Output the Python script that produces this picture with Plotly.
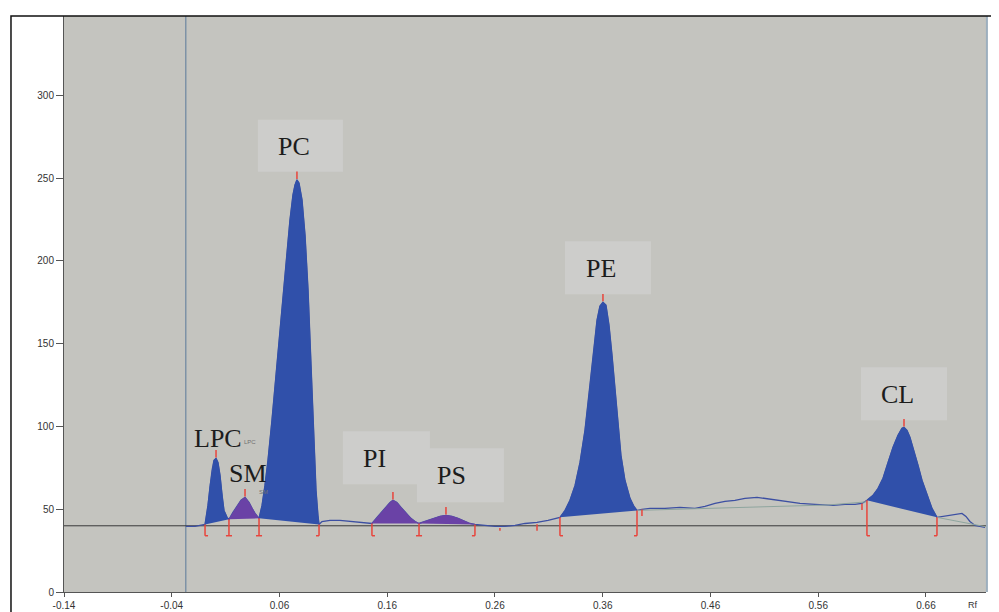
import numpy as np
import plotly.graph_objects as go

# Densitometric scan of an HPTLC plate (Rf vs. detector response)
rf = [
    -0.0268, -0.0184, -0.0138, -0.0091, -0.0064, -0.0045, -0.0026, -0.0008, 0.0011, 0.0029,
    0.0048, 0.0066, 0.0085, 0.0113, 0.0131, 0.0168, 0.0206, 0.0243, 0.0280, 0.0317,
    0.0345, 0.0373, 0.0410, 0.0438, 0.0465, 0.0493, 0.0530, 0.0568, 0.0605, 0.0642,
    0.0670, 0.0697, 0.0725, 0.0744, 0.0762, 0.0781, 0.0809, 0.0837, 0.0865, 0.0883,
    0.0911, 0.0939, 0.0957, 0.0967, 0.0994, 0.1069, 0.1161, 0.1254, 0.1347, 0.1458,
    0.1505, 0.1551, 0.1598, 0.1626, 0.1653, 0.1690, 0.1728, 0.1774, 0.1820, 0.1858,
    0.1895, 0.1950, 0.2015, 0.2090, 0.2145, 0.2201, 0.2257, 0.2322, 0.2368, 0.2414,
    0.2507, 0.2600, 0.2693, 0.2786, 0.2878, 0.2990, 0.3092, 0.3157, 0.3203, 0.3250,
    0.3296, 0.3343, 0.3389, 0.3435, 0.3472, 0.3510, 0.3547, 0.3574, 0.3602, 0.3630,
    0.3658, 0.3686, 0.3714, 0.3742, 0.3769, 0.3806, 0.3853, 0.3890, 0.3918, 0.3964,
    0.4039, 0.4178, 0.4317, 0.4456, 0.4549, 0.4642, 0.4735, 0.4827, 0.4920, 0.5032,
    0.5152, 0.5245, 0.5338, 0.5431, 0.5570, 0.5737, 0.5848, 0.5941, 0.6006, 0.6052,
    0.6108, 0.6155, 0.6201, 0.6247, 0.6294, 0.6340, 0.6377, 0.6396, 0.6424, 0.6451,
    0.6489, 0.6526, 0.6563, 0.6609, 0.6656, 0.6702, 0.6758, 0.6823, 0.6888, 0.6934,
    0.6971, 0.7008, 0.7055, 0.7148,
]
signal = [
    39.6, 39.6, 40.2, 40.8, 52.3, 64.4, 73.5, 79.6, 80.8, 78.3,
    70.5, 58.4, 49.3, 45.1, 43.9, 48.1, 51.7, 55.4, 57.2, 54.1,
    50.5, 47.5, 44.5, 52.3, 64.4, 79.6, 103.8, 131.0, 158.2, 185.4,
    206.6, 224.7, 239.9, 246.0, 249.0, 247.1, 236.9, 215.7, 182.4, 152.1,
    103.8, 61.4, 46.3, 40.8, 42.6, 43.3, 43.3, 42.6, 42.0, 41.4,
    45.1, 48.7, 52.3, 54.1, 55.4, 54.1, 51.1, 47.5, 44.5, 42.6,
    41.4, 42.6, 43.9, 45.7, 46.3, 45.7, 44.5, 42.6, 41.4, 40.8,
    40.2, 39.6, 39.6, 40.2, 41.4, 42.0, 43.3, 44.5, 45.1, 49.3,
    55.4, 64.4, 78.3, 97.7, 118.9, 143.1, 164.2, 172.7, 175.1, 173.3,
    161.2, 143.1, 121.9, 100.7, 82.6, 67.5, 56.6, 51.7, 49.3, 49.9,
    50.5, 50.5, 51.1, 50.5, 51.7, 53.5, 54.8, 55.4, 56.6, 57.2,
    56.0, 55.4, 54.1, 53.5, 52.9, 52.3, 52.9, 52.9, 53.5, 55.4,
    58.4, 62.6, 68.7, 78.3, 87.4, 94.7, 98.9, 99.5, 97.7, 93.5,
    85.7, 76.6, 67.5, 58.4, 50.5, 45.1, 45.7, 46.3, 46.9, 47.5,
    45.7, 42.6, 40.2, 39.0,
]

# integrated peaks
peak_names = ["LPC", "SM", "PC", "PI", "PS", "PE", "CL"]
peak_start = [-0.0091, 0.0131, 0.0410, 0.1458, 0.1895, 0.3203, 0.6052]
peak_end = [0.0131, 0.0410, 0.0967, 0.1895, 0.2414, 0.3918, 0.6702]
peak_apex = [0.0011, 0.0280, 0.0762, 0.1653, 0.2145, 0.3602, 0.6396]
peak_class = ["blue", "purple", "blue", "purple", "purple", "blue", "blue"]

# baseline drawn by the software under the late part of the scan
bl_rf = [0.3918, 0.4450, 0.5000, 0.5700, 0.6052, None, 0.6702, 0.7148]
bl_val = [49.3, 50.3, 51.3, 52.6, 54.5, None, 45.1, 39.5]

# red peak-limit markers: position and kind
mark_rf = [-0.0091, 0.0131, 0.0410, 0.0967, 0.1458, 0.1895, 0.2414, 0.2646, 0.2990,
           0.3203, 0.3918, 0.3964, 0.6006, 0.6052, 0.6702]
mark_kind = ["[", "I", "I", "]", "[", "I", "]", "|", "|", "[", "]", "'", "'", "[", "]"]

origin_rf = -0.027
zero_line = 40
x_ticks = [-0.14, -0.04, 0.06, 0.16, 0.26, 0.36, 0.46, 0.56, 0.66]
y_ticks = [0, 50, 100, 150, 200, 250, 300]

fill_colors = {"blue": "#3050AA", "purple": "#6A42A6"}
RED = "#E8453C"

rf_a = np.array(rf)
sig_a = np.array(signal)

fig = go.Figure()

# raw scan line
fig.add_trace(go.Scatter(x=rf, y=signal, mode="lines",
                         line=dict(color="#3C4FA2", width=1.3), hoverinfo="skip"))

# filled peak areas
for name, s, e, cls in zip(peak_names, peak_start, peak_end, peak_class):
    m = (rf_a >= s - 1e-9) & (rf_a <= e + 1e-9)
    fig.add_trace(go.Scatter(x=rf_a[m], y=sig_a[m], mode="lines", fill="toself",
                             fillcolor=fill_colors[cls],
                             line=dict(color=fill_colors[cls], width=0.8),
                             name=name, hoverinfo="skip"))

fig.add_trace(go.Scatter(x=bl_rf, y=bl_val, mode="lines",
                         line=dict(color="#8EA59E", width=1), hoverinfo="skip"))

# red limit markers below the trace
mx, my = [], []
foot = 0.0028
bottom = 34
for x, k in zip(mark_rf, mark_kind):
    top = float(np.interp(x, rf_a, sig_a))
    if k == "'":
        mx += [x, x, None]; my += [top, top - 4, None]
    elif k == "|":
        mx += [x, x, None]; my += [top - 1, bottom + 3, None]
    else:
        mx += [x, x, None]; my += [top, bottom, None]
        if k == "[":
            mx += [x, x + foot, None]; my += [bottom, bottom, None]
        elif k == "]":
            mx += [x - foot, x, None]; my += [bottom, bottom, None]
        else:
            mx += [x - foot, x + foot, None]; my += [bottom, bottom, None]
# apex ticks
for a in peak_apex:
    top = float(np.interp(a, rf_a, sig_a))
    mx += [a, a, None]; my += [top + 0.5, top + 5, None]
fig.add_trace(go.Scatter(x=mx, y=my, mode="lines", line=dict(color=RED, width=1.5),
                         hoverinfo="skip"))

# label boxes and names (pixel offsets from each apex)
label_pos = {
    "LPC": dict(dx=2, dy=20, box=None, small=(34, 16)),
    "SM": dict(dx=3, dy=24, box=None, small=(18, 5)),
    "PC": dict(dx=-3, dy=33, box=(-39, 46, 8, 60)),
    "PI": dict(dx=-18, dy=42, box=(-50, 37, 16, 69)),
    "PS": dict(dx=6, dy=40, box=(-29, 58, 13, 67)),
    "PE": dict(dx=-2, dy=34, box=(-38, 48, 8, 61)),
    "CL": dict(dx=-7, dy=33, box=(-43, 43, 7, 60)),
}
shapes = []
annotations = []
for name, a in zip(peak_names, peak_apex):
    top = float(np.interp(a, rf_a, sig_a))
    p = label_pos[name]
    if p["box"]:
        x0, x1, y0, y1 = p["box"]
        shapes.append(dict(type="rect", xref="x", yref="y", xsizemode="pixel",
                           ysizemode="pixel", xanchor=a, yanchor=top,
                           x0=x0, x1=x1, y0=y0, y1=y1, layer="below",
                           fillcolor="#CDCDCB", line=dict(width=0)))
    annotations.append(dict(x=a, y=top, xref="x", yref="y", text=name, showarrow=False,
                            xshift=p["dx"], yshift=p["dy"],
                            font=dict(family="Liberation Serif", size=26, color="#1C1C1C")))
    if "small" in p:
        # faint software label next to the big one
        sx, sy = p["small"]
        annotations.append(dict(x=a, y=top, xref="x", yref="y", text=name, showarrow=False,
                                xshift=sx, yshift=sy,
                                font=dict(family="Liberation Sans", size=6, color="#707070")))

annotations.append(dict(x=0.994, y=-0.022, xref="paper", yref="paper", text="Rf",
                        showarrow=False, yanchor="middle",
                        font=dict(family="Liberation Sans", size=9, color="#333")))

shapes += [
    dict(type="line", xref="x", yref="paper", x0=origin_rf, x1=origin_rf, y0=0, y1=1,
         line=dict(color="#7D92A6", width=1.5), layer="below"),
    dict(type="line", xref="paper", yref="y", x0=0, x1=1, y0=zero_line, y1=zero_line,
         line=dict(color="#3A3A3A", width=1), layer="below"),
    dict(type="line", xref="paper", yref="paper", x0=1.001, x1=1.001, y0=0, y1=1,
         line=dict(color="#9DAFBE", width=2)),
    dict(type="rect", xref="paper", yref="paper", x0=-0.0575, x1=1.2, y0=-0.2, y1=1.0,
         line=dict(color="#111", width=1.5)),
]

# the page body adds an 8px margin, so the figure is sized to fit the window
fig.update_layout(
    width=991, height=604,
    margin=dict(l=56, r=13, t=8, b=20),
    paper_bgcolor="white", plot_bgcolor="#C4C4BF",
    showlegend=False,
    shapes=shapes, annotations=annotations,
    xaxis=dict(range=[-0.14, 0.7157], tickvals=x_ticks, automargin=False,
               ticktext=[f"{v:.2f}" for v in x_ticks],
               showgrid=False, zeroline=False, showline=True, linecolor="#555",
               ticks="outside", ticklen=4, tickcolor="#555",
               tickfont=dict(family="Liberation Sans", size=10, color="#333")),
    yaxis=dict(range=[0, 348], tickvals=y_ticks, showgrid=False, zeroline=False,
               automargin=False,
               showline=True, linecolor="#555", ticks="outside", ticklen=7,
               tickcolor="#555",
               tickfont=dict(family="Liberation Sans", size=10, color="#333")),
)

fig.write_html("out.html")
